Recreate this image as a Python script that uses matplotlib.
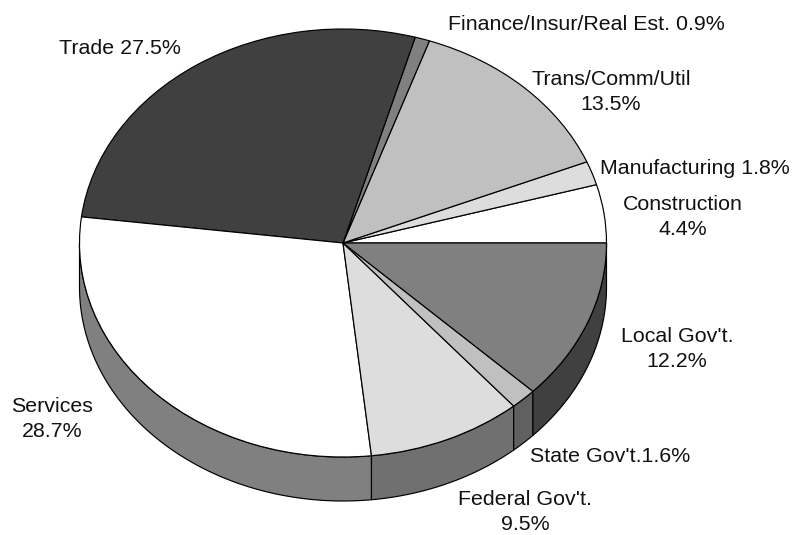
import matplotlib
matplotlib.use("Agg")
import matplotlib.pyplot as plt
import numpy as np

plt.rcParams['font.family'] = ['Liberation Sans', 'DejaVu Sans']

sectors = ["Construction", "Manufacturing", "Trans/Comm/Util", "Finance/Insur/Real Est.",
           "Trade", "Services", "Federal Gov't.", "State Gov't.", "Local Gov't."]
shares = [4.4, 1.8, 13.5, 0.9, 27.5, 28.7, 9.5, 1.6, 12.2]
top_colors = ["#ffffff", "#dddddd", "#c0c0c0", "#808080", "#404040",
              "#ffffff", "#dddddd", "#c0c0c0", "#808080"]
side_colors = ["#ffffff", "#dddddd", "#c0c0c0", "#808080", "#404040",
               "#808080", "#707070", "#606060", "#404040"]

# label text, pixel position of the centre, one or two lines
labels = [
    ("Construction\n4.4%", 683, 217),
    ("Manufacturing 1.8%", 695, 169),
    ("Trans/Comm/Util\n13.5%", 611, 92),
    ("Finance/Insur/Real Est. 0.9%", 586.5, 24),
    ("Trade 27.5%", 120, 48),
    ("Services\n28.7%", 52, 419),
    ("Federal Gov't.\n9.5%", 525, 512),
    ("State Gov't.1.6%", 610, 457),
    ("Local Gov't.\n12.2%", 677, 349),
]

W, H = 804, 535
CX, CY, RX, RY = 343, 243, 263.5, 214
DEPTH = 44 / RY

fig = plt.figure(figsize=(W / 100, H / 100), dpi=100)
ax = fig.add_axes([0, 0, 1, 1])

wedges, _ = ax.pie(shares, colors=top_colors, startangle=0, counterclock=True,
                   wedgeprops={'edgecolor': 'black', 'linewidth': 0.85, 'zorder': 3})

# the rim of the pie, only the front half can be seen
for w, col in zip(wedges, side_colors):
    t1, t2 = max(w.theta1, 180), min(w.theta2, 360)
    if t2 <= t1:
        continue
    t = np.radians(np.linspace(t1, t2, 80))
    x = np.cos(t)
    y = np.sin(t)
    ax.fill(np.r_[x, x[::-1]], np.r_[y, y[::-1] - DEPTH], facecolor=col,
            edgecolor='black', linewidth=0.85, zorder=2)

ax.set_aspect('auto')
ax.set_xlim(-CX / RX, (W - CX) / RX)
ax.set_ylim((CY - H) / RY, CY / RY)
ax.axis('off')

for text, px, py in labels:
    fig.text(px / W, 1 - py / H, text, ha='center', va='center', fontsize=15.4,
             color='#111111', linespacing=1.4)

fig.savefig("out.png", dpi=100)
